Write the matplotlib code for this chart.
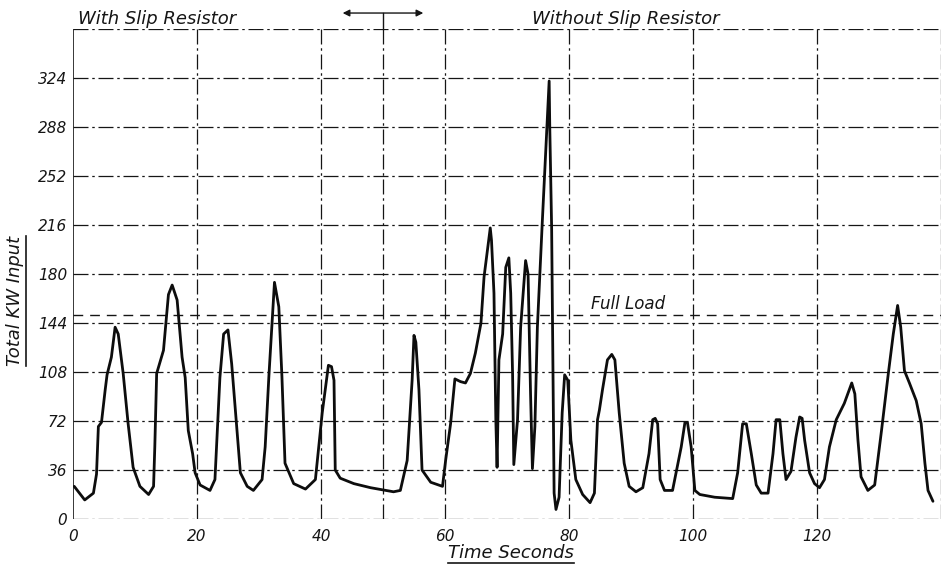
import matplotlib
matplotlib.use("Agg")
import matplotlib.pyplot as plt
from matplotlib.lines import Line2D

# ---------------- data ----------------
time_s = [0.2, 1.9, 3.3, 3.8, 4.1, 4.6, 5.2, 5.5, 6.2, 6.8, 7.3, 8.1, 8.9, 9.7, 10.8, 12.2,
          13.0, 13.2, 13.5, 14.6, 15.4, 16.0, 16.8, 17.6, 18.1, 18.6, 19.3, 19.7, 20.5, 22.1,
          22.9, 23.7, 24.3, 25.0, 25.6, 26.4, 27.0, 28.1, 29.1, 30.5, 31.0, 31.6, 32.5, 33.2,
          33.7, 34.2, 35.6, 37.5, 39.1, 40.2, 41.2, 41.7, 42.1, 42.3, 43.1, 45.3, 48.0, 51.7,
          52.8, 53.9, 54.7, 55.0, 55.3, 55.8, 56.3, 57.7, 59.6, 60.1, 60.9, 61.6, 62.5, 63.3,
          64.1, 64.9, 65.8, 66.3, 67.3, 67.5, 67.9, 68.2, 68.4, 68.7, 69.3, 69.8, 70.3, 70.6,
          70.9, 71.1, 71.7, 72.2, 73.0, 73.4, 73.8, 74.1, 74.5, 74.9, 75.3, 75.7, 76.3, 76.4,
          76.8, 76.9, 77.2, 77.4, 77.6, 77.9, 78.4, 78.9, 79.3, 79.8, 80.3, 81.1, 82.2, 83.4,
          84.1, 84.6, 84.9, 85.4, 86.2, 86.9, 87.4, 88.1, 88.9, 89.7, 90.8, 91.9, 92.9, 93.5,
          93.9, 94.3, 94.7, 95.4, 96.7, 98.1, 98.7, 99.1, 99.7, 100.3, 101.1, 103.5, 106.4,
          107.2, 108.0, 108.6, 109.4, 110.2, 111.0, 112.1, 112.9, 113.4, 114.0, 114.5, 115.0,
          115.8, 116.6, 117.2, 117.6, 118.0, 118.8, 119.6, 120.4, 121.2, 122.0, 123.1, 124.4,
          125.6, 126.1, 126.6, 127.1, 128.2, 129.3, 130.4, 131.5, 132.3, 133.0, 133.5, 134.1,
          134.9, 136.0, 136.8, 137.4, 137.9, 138.7]
kw_input = [24, 14, 19, 33, 68, 71, 95, 106, 119, 141, 136, 107, 70, 38, 24, 18,
            24, 53, 107, 124, 165, 172, 161, 119, 104, 65, 48, 34, 25, 21,
            29, 104, 136, 139, 114, 68, 34, 24, 21, 29, 53, 105, 174, 156,
            105, 41, 26, 22, 29, 78, 113, 112, 102, 36, 30, 26, 23, 20,
            21, 43, 102, 135, 130, 95, 36, 27, 24, 43, 70, 103, 101, 100,
            107, 122, 144, 178, 214, 205, 166, 73, 38, 117, 136, 185, 192, 166,
            107, 40, 73, 141, 190, 180, 92, 37, 68, 141, 180, 219, 275, 283,
            322, 288, 214, 117, 19, 7, 16, 78, 106, 102, 58, 29, 18, 12,
            19, 73, 80, 95, 117, 121, 117, 78, 41, 24, 20, 23, 48, 73,
            74, 70, 29, 21, 21, 53, 71, 71, 53, 21, 18, 16, 15,
            34, 70, 70, 48, 25, 19, 19, 48, 73, 73, 48, 29,
            35, 60, 75, 74, 58, 34, 26, 23, 29, 53, 73, 85,
            100, 92, 58, 31, 21, 25, 65, 107, 136, 157, 141, 109,
            100, 87, 70, 41, 21, 13]

full_load = 150
y_ticks = [0, 36, 72, 108, 144, 180, 216, 252, 288, 324]
x_ticks = [0, 20, 40, 60, 80, 100, 120]
v_grid = [20, 40, 50, 60, 80, 100, 120, 140]
h_grid = [36, 72, 108, 144, 180, 216, 252, 288, 324, 360]
x_max, y_max = 140, 360
arrow_span = (43.5, 56.5)

# ---------------- figure ----------------
fig = plt.figure(figsize=(9.45, 5.70), dpi=100)
ax = fig.add_axes([0.0772, 0.0895, 0.9186, 0.859])
ax.set_xlim(0, x_max)
ax.set_ylim(0, y_max)
for s in ax.spines.values():
    s.set_visible(False)

ink = "#151515"
dashdot = (0, (12, 3, 2, 3))
for yv in h_grid:
    ax.plot([0, x_max], [yv, yv], color=ink, lw=0.9, ls=dashdot, zorder=1)
ax.plot([0, x_max], [0, 0], color=ink, lw=0.9, ls=dashdot, zorder=1)
for xv in v_grid:
    ax.plot([xv, xv], [0, y_max], color=ink, lw=0.9, ls=dashdot, zorder=1)
ax.plot([0, 0], [0, y_max], color=ink, lw=1.2, zorder=1)

# full load line
ax.plot([0, x_max], [full_load, full_load], color=ink, lw=1.0, ls=(0, (7, 5)), zorder=1)

# data curve
ax.plot(time_s, kw_input, color="#0d0d0d", lw=2.0, solid_joinstyle="round",
        solid_capstyle="round", zorder=3)

# arrow at top
ax.plot([50, 50], [y_max, 372], color=ink, lw=1.0, clip_on=False)
ax.annotate("", xy=(arrow_span[0], 372), xytext=(arrow_span[1], 372),
            arrowprops=dict(arrowstyle="<|-|>", color=ink, lw=1.0,
                            mutation_scale=10, shrinkA=0, shrinkB=0),
            annotation_clip=False)

fontkw = dict(family="DejaVu Sans", style="italic", color=ink)

ax.set_xticks(x_ticks)
ax.set_xticklabels([str(v) for v in x_ticks], fontsize=11, **fontkw)
ax.set_yticks(y_ticks)
ax.set_yticklabels([str(v) for v in y_ticks], fontsize=11, **fontkw)
ax.tick_params(length=0, pad=4)
ax.tick_params(axis="x", pad=7)

t1 = ax.text(0.8, 361, "With Slip Resistor", fontsize=13, ha="left", va="bottom", **fontkw)
t2 = ax.text(74, 361, "Without Slip Resistor", fontsize=13, ha="left", va="bottom", **fontkw)
t3 = ax.text(83.5, 151.5, "Full Load", fontsize=12, ha="left", va="bottom", **fontkw)
t4 = ax.text(70.6, -25, "Time Seconds", fontsize=13, ha="center", va="center", **fontkw)
t5 = ax.text(-9.4, 160, "Total KW Input", fontsize=13, ha="center", va="center",
             rotation=90, **fontkw)
for t in (t1, t2, t3, t4, t5):
    t.set_clip_on(False)

# underline the lettering
fig.canvas.draw()
W, H = fig.bbox.width, fig.bbox.height
bb = t4.get_window_extent()
fig.add_artist(Line2D([bb.x0 / W, bb.x1 / W], [(bb.y0 - 1) / H] * 2,
                      color=ink, lw=1.2, transform=fig.transFigure))
bb = t5.get_window_extent()
fig.add_artist(Line2D([(bb.x1 + 2) / W] * 2, [bb.y0 / H, bb.y1 / H],
                      color=ink, lw=1.2, transform=fig.transFigure))

fig.savefig("out.png", dpi=100, facecolor="white")
